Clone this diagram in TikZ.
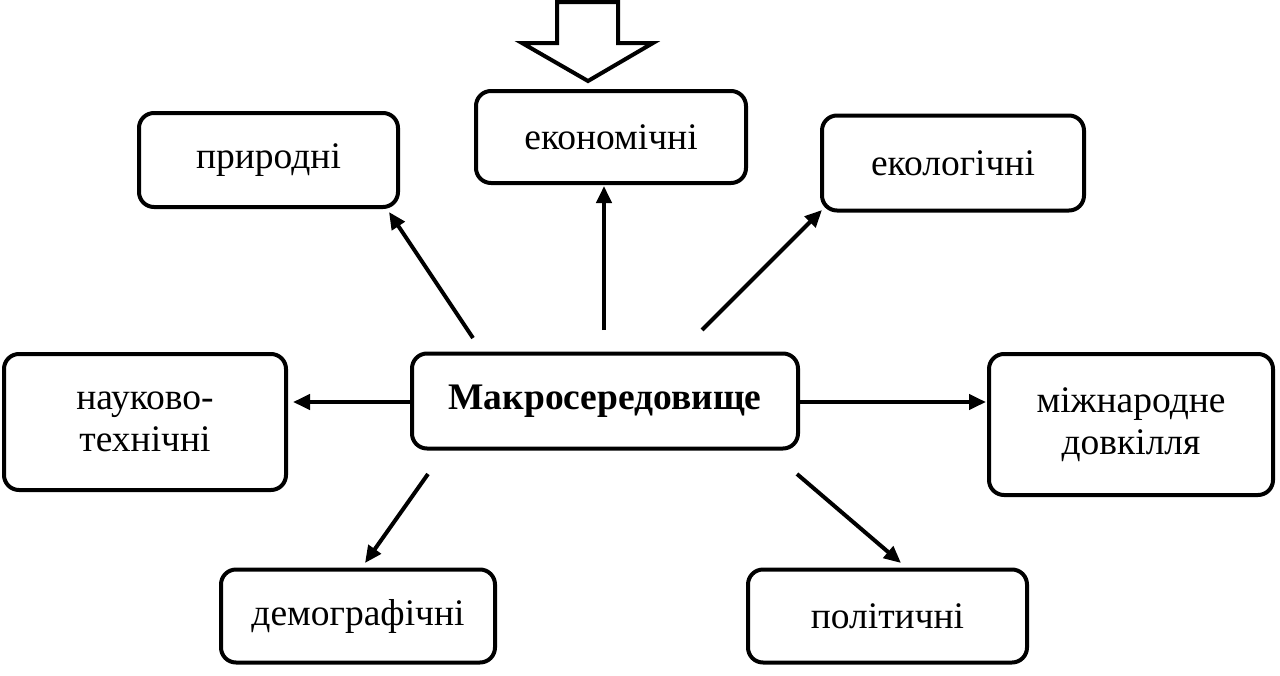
\documentclass[tikz,border=0pt]{standalone}
\usepackage{fontspec}
\setmainfont{Liberation Serif}
\usetikzlibrary{arrows.meta}
\tikzset{
  box/.style={draw, line width=4pt, rounded corners=15pt, align=center, inner sep=0pt,
    font=\fontsize{37.5}{41.5}\selectfont},
  arr/.style={line width=4pt, -{Triangle[length=17pt,width=15pt]}},
  hollow/.style={draw, line width=4pt, fill=white, line join=miter}
}
\begin{document}
\begin{tikzpicture}[x=1pt,y=-1pt]
\useasboundingbox (0,0) rectangle (1280,675);
\node[box, minimum width=259pt, minimum height=94pt] (p) at (268.5,160) {природні};
\node[box, minimum width=270pt, minimum height=92pt] (e) at (611,137) {економічні};
\node[box, minimum width=262pt, minimum height=95pt] (ek) at (953,163) {екологічні};
\node[box, minimum width=386pt, minimum height=95pt, font=\fontsize{37.5}{41.5}\selectfont\bfseries] (m) at (605,401) {Макросередовище};
\node[box, minimum width=282pt, minimum height=136pt] (n) at (145,422) {науково-\\технічні};
\node[box, minimum width=284pt, minimum height=141pt] (d) at (1131,424.5) {міжнародне\\довкілля};
\node[box, minimum width=274pt, minimum height=93pt] (dem) at (358,616) {демографічні};
\node[box, minimum width=279pt, minimum height=93pt] (pol) at (887.5,616) {політичні};

\coordinate (s1) at (473,338);
\coordinate (t1) at (389,212);
\coordinate (s2) at (604,330);
\coordinate (t2) at (604,186);
\coordinate (s3) at (702,330);
\coordinate (t3) at (822,210);
\coordinate (t4) at (293,402);
\coordinate (t5) at (986,402);
\coordinate (s6) at (428,474);
\coordinate (t6) at (365,563);
\coordinate (s7) at (797,474);
\coordinate (t7) at (901,563);

\draw[arr] (s1) -- (t1);
\draw[arr] (s2) -- (t2);
\draw[arr] (s3) -- (t3);
\draw[arr] (m.west |- t4) -- (t4);
\draw[arr] (m.east |- t5) -- (t5);
\draw[arr] (s6) -- (t6);
\draw[arr] (s7) -- (t7);

\draw[hollow] (557,2) -- (618,2) -- (618,43) -- (653,43) -- (588,81) -- (522,43) -- (557,43) -- cycle;
\end{tikzpicture}
\end{document}
